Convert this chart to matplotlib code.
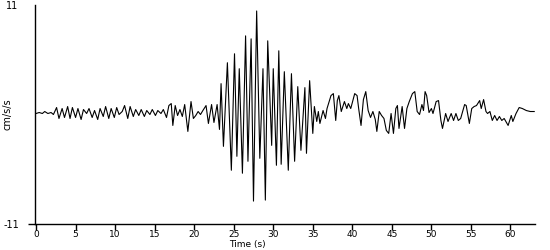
import matplotlib
matplotlib.use("Agg")
import matplotlib.pyplot as plt

plt.rcParams["font.family"] = ["DejaVu Sans"]

# peak / trough readings of the accelerogram (time in s, acceleration in cm/s/s)
quiet_t = [0.0, 0.4, 0.8, 1.1, 1.5, 1.9, 2.2, 2.6, 2.9, 3.3, 3.6, 4.0, 4.3, 4.6, 5.0,
           5.3, 5.7, 6.0, 6.4, 6.7, 7.1, 7.4, 7.8, 8.1, 8.5, 8.8, 9.2, 9.5, 9.9, 10.2,
           10.5, 10.9, 11.2, 11.6, 11.9, 12.3, 12.6, 13.0, 13.3, 13.7, 14.0, 14.4, 14.7,
           15.1, 15.4, 15.8, 16.1, 16.5, 16.8, 17.1, 17.3, 17.6, 17.9, 18.2, 18.5, 18.8,
           19.2, 19.6, 19.9, 20.2, 20.5, 20.8, 21.1, 21.5, 21.8, 22.2, 22.5, 22.9]
quiet_a = [0.1, 0.2, 0.1, 0.3, 0.1, 0.2, 0.0, 0.7, -0.4, 0.6, -0.3, 0.8, -0.4, 0.7, -0.3,
           0.6, -0.5, 0.5, 0.1, 0.6, -0.3, 0.4, -0.5, 0.6, -0.2, 0.8, -0.4, 0.6, -0.3, 0.7,
           0.0, 0.3, 0.9, -0.4, 0.8, -0.2, 0.5, -0.1, 0.5, -0.2, 0.4, 0.0, 0.5,
           -0.1, 0.4, 0.1, 0.5, -0.3, 0.9, 1.1, -1.1, 0.9, -0.1, 0.5, -0.2, 1.0,
           -1.7, 1.3, -0.4, -0.1, 0.3, 0.0, 0.4, 0.9, -0.9, 1.0, -0.8, 1.0]

strong_t = [23.2, 23.4, 23.7, 24.2, 24.7, 25.1, 25.4, 25.7, 26.1, 26.5, 26.8, 27.2, 27.5,
            27.9, 28.3, 28.7, 29.0, 29.3, 29.8, 30.0, 30.4, 30.7, 31.0, 31.4, 31.9, 32.3,
            32.7, 33.1, 33.5, 34.0, 34.2, 34.6]
strong_a = [-1.5, 3.1, -3.2, 5.2, -5.6, 6.1, -4.2, 4.6, -5.9, 7.9, -4.7, 7.6, -8.7,
            10.4, -4.4, 4.6, -8.6, 7.4, -3.1, 4.6, -5.1, 6.4, -5.0, 4.3, -5.6, 4.1,
            -4.7, 2.8, -3.6, 2.7, -3.9, 3.4]

coda_t = [35.0, 35.2, 35.5, 35.7, 35.9, 36.3, 36.6, 36.8, 37.3, 37.6, 37.9, 38.1, 38.3,
          38.6, 39.0, 39.3, 39.5, 39.8, 40.3, 40.6, 40.8, 41.1, 41.4, 41.7, 42.0, 42.3,
          42.6, 42.9, 43.1, 43.4, 43.7, 44.0, 44.3, 44.6, 44.9, 45.2, 45.5, 45.7, 45.9,
          46.3, 46.6, 46.9, 47.2, 47.6, 47.9, 48.2, 48.5, 48.8, 49.0, 49.2, 49.4, 49.7,
          50.0, 50.2, 50.6, 50.9, 51.2, 51.4, 51.8, 52.1, 52.5, 52.8, 53.1, 53.4, 53.7,
          54.2, 54.4, 54.8, 55.1, 55.4, 55.7, 56.1, 56.3, 56.6, 56.9, 57.1, 57.4, 57.7,
          58.0, 58.3, 58.6, 58.9, 59.2, 59.7, 60.1, 60.3, 60.7, 61.1, 61.5, 62.0, 62.5, 63.0]
coda_a = [-1.9, 0.8, -0.7, 0.3, -0.9, 0.4, -0.4, 0.6, 1.9, 2.1, -0.6, 1.4, 1.9,
          0.3, 1.3, 0.6, 1.1, 0.6, 2.1, 1.9, 0.6, -1.1, 1.5, 2.3, 0.4, -0.3,
          0.3, -0.5, -1.7, 0.3, -0.1, -0.4, -1.6, -1.9, 0.1, -1.9, 0.6, 0.9, -1.4,
          0.8, -1.4, 0.6, 1.3, 2.1, 2.3, 0.3, 0.0, 1.0, 0.4, 2.3, 1.9, 0.2,
          0.6, 0.1, 1.3, 1.4, -0.6, -1.4, 0.1, -0.7, 0.1, -0.6, 0.1, -0.6, -0.4,
          1.0, 0.9, -0.9, 0.6, 0.8, 0.9, 1.4, 0.6, 1.5, 0.3, 0.1, 0.3, -0.6,
          -0.1, -0.6, -0.2, -0.6, -0.4, -1.1, -0.1, -0.7, 0.1, 0.7, 0.6, 0.4, 0.3, 0.3]

time_s = quiet_t + strong_t + coda_t
accel = quiet_a + strong_a + coda_a

fig = plt.figure(figsize=(5.5, 2.5), dpi=100, facecolor="white")
ax = fig.add_axes([35 / 550, 1 - 224 / 250, 500 / 550, 219 / 250])

ax.plot(time_s, accel, color="black", linewidth=0.8)

ax.set_xlim(-0.13, 63.1)
ax.set_ylim(-11, 11)
ax.set_xticks(range(0, 61, 5))
ax.tick_params(axis="x", length=4, width=1, pad=0.5, labelsize=6.5)

ax.set_yticks([-11])
ax.set_yticklabels(["-11"])
ax.set_yticks([11], minor=True)
ax.set_yticklabels(["11"], minor=True)
ax.tick_params(axis="y", which="major", length=5, width=1, pad=6, labelsize=7)
ax.tick_params(axis="y", which="minor", length=0, pad=12, labelsize=7)

for side in ["top", "right"]:
    ax.spines[side].set_visible(False)
ax.spines["left"].set_linewidth(1)
ax.spines["bottom"].set_linewidth(1)

ax.set_ylabel("cm/s/s", fontsize=7)
ax.yaxis.set_label_coords(-0.045, 0.5)
ax.set_xlabel("Time (s)", fontsize=6.5)
ax.xaxis.set_label_coords(0.424, -0.072)

fig.savefig("out.png", dpi=100, facecolor="white")
